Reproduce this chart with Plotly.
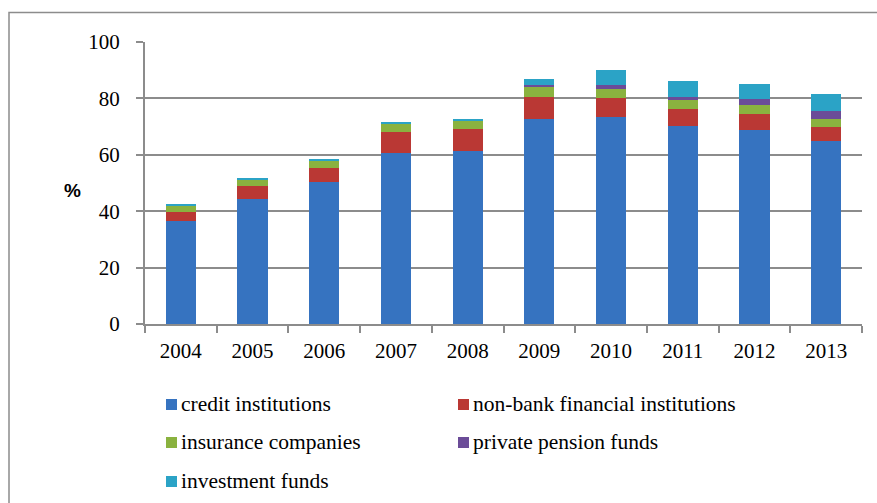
import plotly.graph_objects as go

years = ["2004", "2005", "2006", "2007", "2008", "2009", "2010", "2011", "2012", "2013"]
credit_institutions = [36.4, 44.4, 50.5, 60.7, 61.2, 72.6, 73.5, 70.3, 68.9, 65.0]
non_bank_financial = [3.4, 4.6, 4.9, 7.5, 8.1, 8.0, 6.7, 6.0, 5.7, 5.0]
insurance_companies = [2.2, 2.3, 2.5, 2.9, 2.8, 3.5, 3.2, 3.2, 3.2, 2.8]
private_pension_funds = [0.0, 0.0, 0.0, 0.0, 0.2, 0.6, 1.2, 1.0, 1.9, 2.6]
investment_funds = [0.3, 0.2, 0.3, 0.6, 0.5, 2.3, 5.6, 5.8, 5.5, 6.3]

series = [
    ("credit institutions", credit_institutions, "#3673C0"),
    ("non-bank financial institutions", non_bank_financial, "#BA3834"),
    ("insurance companies", insurance_companies, "#8AB23F"),
    ("private pension funds", private_pension_funds, "#6B4C98"),
    ("investment funds", investment_funds, "#2BA3C6"),
]

W, H = 877, 503
L, R, T, B = 145, 15, 42, 179
pw, ph = W - L - R, H - T - B
serif = "Liberation Serif"
grid = "#8C8C8C"

fig = go.Figure()
for name, vals, col in series:
    fig.add_trace(go.Bar(x=years, y=vals, name=name, marker=dict(color=col, line=dict(width=0)),
                         showlegend=False))


def px_x(x):
    return (x - L) / pw


def px_y(y):
    return 1 - (y - T) / ph


shapes = [
    # chart frame (left and top edges fall inside the page)
    dict(type="rect", xref="paper", yref="paper", x0=px_x(9), x1=px_x(890),
         y0=px_y(520), y1=px_y(12.5), line=dict(color=grid, width=1.5), layer="below"),
]
annotations = [
    dict(text="<b>%</b>", xref="paper", yref="paper", x=px_x(62), y=px_y(190),
         showarrow=False, font=dict(family="Liberation Sans", size=19, color="black")),
]

# legend laid out in two columns
legend_pos = [(166, 404), (458, 404), (166, 442), (458, 442), (166, 481)]
for (name, _, col), (lx, ly) in zip(series, legend_pos):
    shapes.append(dict(type="rect", xref="paper", yref="paper",
                       x0=px_x(lx), x1=px_x(lx + 11), y0=px_y(ly + 6), y1=px_y(ly - 5),
                       fillcolor=col, line=dict(width=0)))
    annotations.append(dict(text=name, xref="paper", yref="paper", x=px_x(lx + 13), y=px_y(ly),
                            xanchor="left", yanchor="middle", showarrow=False,
                            font=dict(family=serif, size=21.5, color="black")))

fig.update_layout(
    width=W, height=H,
    margin=dict(l=L, r=R, t=T, b=B),
    barmode="stack", bargap=0.58,
    plot_bgcolor="white", paper_bgcolor="white",
    shapes=shapes, annotations=annotations,
    xaxis=dict(type="category", showline=True, linecolor=grid, linewidth=2,
               ticks="outside", tickson="boundaries", ticklen=7, tickcolor=grid, tickwidth=2,
               tickfont=dict(family=serif, size=21, color="black"), ticklabelstandoff=7,
               showgrid=False),
    yaxis=dict(range=[0, 100], dtick=20, showline=True, linecolor=grid, linewidth=2,
               ticks="outside", ticklen=7, tickcolor=grid, tickwidth=2,
               showgrid=True, gridcolor=grid, gridwidth=2, zeroline=False,
               tickfont=dict(family=serif, size=21, color="black"), ticklabelstandoff=12),
)

fig.write_html("out.html")
